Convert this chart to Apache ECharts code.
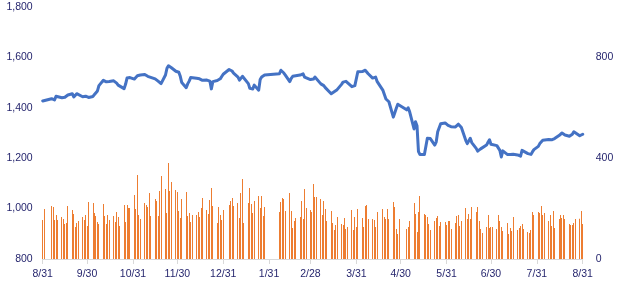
<!DOCTYPE html>
<html><head><meta charset="utf-8">
<script src="https://cdn.jsdelivr.net/npm/echarts@6/dist/echarts.min.js"></script>
<style>html,body{margin:0;padding:0;background:#fff}#c{width:622px;height:302px}</style>
</head><body><div id="c"></div><script>
// Date range and days without data
const startDate = '2021-08-31';
const endDate = '2022-08-31';
const skipDays = ['2021-09-02','2021-09-03','2022-01-03','2022-01-31','2022-02-01','2022-02-02','2022-02-03','2022-02-04','2022-04-15','2022-05-02','2022-05-03'];

// Axis tick dates and labels (month ends)
const tickDates = ['2021-08-31','2021-09-30','2021-10-31','2021-11-30','2021-12-31','2022-01-31','2022-02-28','2022-03-31','2022-04-30','2022-05-31','2022-06-30','2022-07-31','2022-08-31'];
const tickLabels = ['8/31','9/30','10/31','11/30','12/31','1/31','2/28','3/31','4/30','5/31','6/30','7/31','8/31'];

// Line series (left axis), per month, trading days in order
const price2108 = [1427];
const price2109 = [1428, 1436,1440,1431,1446,1444, 1440,1435,1442,1448,1451, 1456,1443,1450,1456,1452, 1444,1451,1446,1440];
const price2110 = [1441, 1445,1453,1458,1467,1488, 1509,1505,1503,1504,1504, 1507,1509,1498,1490,1484, 1476,1493,1518,1525,1520];
const price2111 = [1514,1520,1527,1528,1530, 1532,1533,1525,1518,1521, 1515,1510,1506,1500,1496, 1530,1557,1567,1562,1559, 1545,1543];
const price2112 = [1541,1525,1500, 1480,1495,1506,1520,1518, 1517,1517,1515,1510,1509, 1510,1511,1506,1475,1504, 1508,1512,1515,1522,1533];
const price2201 = [1552,1554,1546,1538, 1522,1510,1504,1525,1520, 1496,1477,1478,1475,1490, 1470,1512,1522,1526,1530];
const price2202 = [1535,1549,1543,1538,1530, 1504,1517,1525,1530,1527, 1530,1533,1535,1522,1521, 1512];
const price2203 = [1511,1514,1522,1518, 1495,1493,1488,1480,1477, 1456,1460,1464,1468,1472, 1493,1502,1509,1505,1498, 1484,1482,1488,1493];
const price2204 = [1543, 1544,1546,1549,1551,1535, 1518,1514,1522,1505, 1469,1452,1435,1440,1424, 1363,1380,1398,1414,1410];
const price2205 = [1392,1400,1385, 1316,1345,1329,1226,1215, 1215,1215,1279,1284,1278, 1252,1265,1305,1308,1337, 1340,1336];
const price2206 = [1330,1327,1325, 1324,1324,1335,1340,1322, 1270,1258,1260,1279,1262, 1239,1228,1232,1237,1240, 1252,1263,1273,1255];
const price2207 = [1252, 1250,1247,1231,1205,1229, 1215,1208,1215,1221,1216, 1213,1213,1208,1231,1228, 1218,1217,1215,1225,1234];
const price2208 = [1247,1258,1265,1271,1270, 1274,1276,1273,1271,1278, 1290,1295,1300,1294,1292, 1287,1284,1295,1305,1300, 1289,1292,1295];

// Bar series (right axis), per month, trading days in order
const vol2108 = [155];
const vol2109 = [198, 210,206,155,175,155, 167,159,139,143,210, 194,179,127,143,151, 167,155,175,131];
const vol2110 = [226, 222,183,171,147,139, 218,171,139,175,155, 171,147,187,167,131, 214,147,214,202,202];
const vol2111 = [254,198,333,175,159, 222,214,206,262,171, 238,230,171,270,329, 278,183,381,270,306, 274,266];
const vol2112 = [190,163,238, 266,171,183,147,175, 175,187,167,202,242, 194,179,234,282,210, 143,206,175,155,194];
const vol2201 = [214,230,242,210, 222,163,262,317,143, 222,282,218,183,230, 250,202,250,171,206];
const vol2202 = [187,226,242,238,190, 262,190,123,151,163, 167,230,159,278,202, 194];
const vol2203 = [187,298,246,246, 238,175,230,198,151, 190,143,115,135,167, 139,135,163,119,127, 194,115,167,127];
const vol2204 = [198, 163,127,210,214,159, 159,155,127,187, 198,167,159,198,159, 226,206,119,99,159];
const vol2205 = [119,127,151, 222,179,107,187,250, 179,175,167,139,115, 151,163,171,131,147, 147,135];
const vol2206 = [151,151,119, 143,171,175,131,151, 202,159,179,159,206, 187,206,151,119,103, 127,175,123,127];
const vol2207 = [127, 119,175,151,127,111, 143,99,123,111,167, 115,123,131,139,119, 107,103,115,187,175];
const vol2208 = [187,183,210,175,183, 151,175,131,190,123, 159,175,163,175,159, 139,135,135,143,159, 160,190,139];

const priceAll = [].concat(price2108,price2109,price2110,price2111,price2112,price2201,price2202,price2203,price2204,price2205,price2206,price2207,price2208);
const volAll = [].concat(vol2108,vol2109,vol2110,vol2111,vol2112,vol2201,vol2202,vol2203,vol2204,vol2205,vol2206,vol2207,vol2208);

const DAY = 864e5;
const t0 = Date.parse(startDate + 'T00:00:00Z');
const t1 = Date.parse(endDate + 'T00:00:00Z');
const dayIdx = s => Math.round((Date.parse(s + 'T00:00:00Z') - t0) / DAY);
const tradeIdx = [];
for (let t = t0; t <= t1; t += DAY) {
  const d = new Date(t);
  const wd = d.getUTCDay();
  const s = d.toISOString().slice(0, 10);
  if (wd === 0 || wd === 6 || skipDays.indexOf(s) >= 0) continue;
  tradeIdx.push(Math.round((t - t0) / DAY));
}
const lineData = [], barData = [];
for (let i = 0; i < tradeIdx.length; i++) {
  if (i < priceAll.length) lineData.push([tradeIdx[i], priceAll[i]]);
  if (i < volAll.length) barData.push([tradeIdx[i], volAll[i]]);
}
const tickPos = tickDates.map(dayIdx);
const labelMap = {};
tickPos.forEach((p, i) => labelMap[p] = tickLabels[i]);

const txt = '#26266e';
const font = 'Liberation Sans, Arial, sans-serif';
const chart = echarts.init(document.getElementById('c'), null, {renderer: 'canvas'});
chart.setOption({
  animation: false,
  backgroundColor: '#fff',
  grid: {left: 42.7, right: 39.3, top: 7, bottom: 43},
  xAxis: {
    type: 'value', min: 0, max: dayIdx(endDate),
    axisLine: {show: true, onZero: false, lineStyle: {color: '#D9D9D9', width: 1}},
    axisTick: {show: true, customValues: tickPos, length: 5, lineStyle: {color: '#D9D9D9'}},
    axisLabel: {customValues: tickPos, formatter: v => labelMap[v] || '', color: txt, fontSize: 10.5, fontFamily: font, margin: 10},
    splitLine: {show: false}
  },
  yAxis: [{
    type: 'value', min: 800, max: 1800, interval: 200, position: 'left',
    axisLine: {show: false}, axisTick: {show: false}, splitLine: {show: false},
    axisLabel: {color: txt, fontSize: 10.5, fontFamily: font, margin: 10, formatter: v => v.toLocaleString('en-US')}
  }, {
    type: 'value', min: 0, max: 1000, interval: 400, position: 'right',
    axisLine: {show: false}, axisTick: {show: false}, splitLine: {show: false},
    axisLabel: {color: txt, fontSize: 10.5, fontFamily: font, margin: 13, formatter: v => (v > 800 ? '' : String(v))}
  }],
  series: [{
    type: 'custom', yAxisIndex: 1, data: barData, z: 1,
    encode: {x: 0, y: 1},
    renderItem: function (params, api) {
      const top = api.coord([api.value(0), api.value(1)]);
      const base = api.coord([api.value(0), 0]);
      const x = Math.round(top[0] - 0.5);
      return {
        type: 'rect',
        shape: {x: x, y: top[1], width: 1, height: base[1] - top[1]},
        style: {fill: '#ED7D31'}
      };
    }
  }, {
    type: 'line', yAxisIndex: 0, data: lineData, showSymbol: false, symbol: 'none',
    lineStyle: {color: '#4472C4', width: 3, join: 'round', cap: 'round'}, z: 3
  }]
});
</script></body></html>
